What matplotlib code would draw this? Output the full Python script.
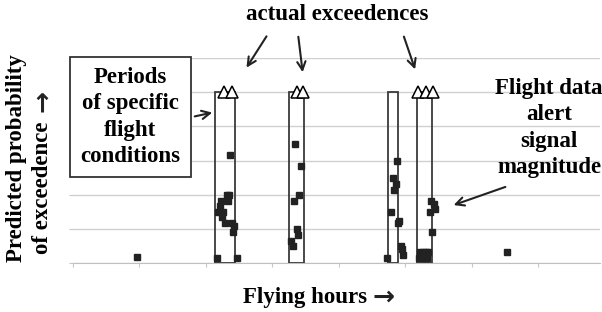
import matplotlib
matplotlib.use("Agg")
import matplotlib.pyplot as plt
from matplotlib.patches import Rectangle

# ---- data (in "flying hours" x units, probability y units) ----
period_start = [2.135, 3.248, 4.737, 5.173]
period_end = [2.436, 3.474, 4.887, 5.398]
period_top = 5.0

exceed_x = [2.271, 2.391, 3.364, 3.463, 5.193, 5.308, 5.418]
exceed_y = [5.0, 5.0, 5.0, 5.0, 5.0, 5.0, 5.0]

signal_x = [0.958,
            2.361, 2.311, 2.346, 2.226, 2.326, 2.211, 2.176, 2.260, 2.245, 2.286, 2.386, 2.421, 2.402, 2.161, 2.462,
            3.338, 3.429, 3.398, 3.323, 3.364, 3.383, 3.278, 3.304,
            4.868, 4.808, 4.857, 4.827, 4.782, 4.898, 4.883, 4.928, 4.947, 4.967, 4.717,
            5.383, 5.424, 5.439, 5.368, 5.398, 5.218, 5.263, 5.308, 5.338, 5.203, 5.248, 5.293, 5.323,
            6.522]
signal_y = [0.166,
            3.149, 1.983, 1.983, 1.816, 1.816, 1.662, 1.496, 1.496, 1.332, 1.157, 1.157, 1.079, 0.913, 0.155, 0.155,
            3.490, 2.828, 1.983, 1.816, 0.991, 0.816, 0.650, 0.496,
            2.983, 2.487, 2.312, 2.149, 1.487, 1.224, 1.157, 0.496, 0.399, 0.242, 0.155,
            1.816, 1.729, 1.566, 1.487, 0.904, 0.321, 0.321, 0.321, 0.321, 0.155, 0.155, 0.155, 0.155,
            0.329]

x_ticks = [0, 1, 2, 3, 4, 5, 6, 7]
y_ticks = [0, 1, 2, 3, 4, 5, 6]

serif = ['Liberation Serif', 'DejaVu Serif']
arrowfont = ['DejaVu Sans']
plt.rcParams['font.family'] = serif

W, H = 602, 312
fig = plt.figure(figsize=(W/100, H/100), dpi=100)
ax = fig.add_axes([73/W, 1-263/H, (600-73)/W, (263-58)/H])
ax.set_xlim(0, 7.925)
ax.set_ylim(0, 6)

ax.set_yticks(y_ticks)
ax.set_xticks(x_ticks)
ax.yaxis.grid(True, color='#d0d0d0', lw=1.0)
ax.set_axisbelow(True)
ax.tick_params(axis='both', length=3, color='#c8c8c8', labelleft=False, labelbottom=False)
for s in ['top', 'right', 'left']:
    ax.spines[s].set_visible(False)
ax.spines['bottom'].set_color('#c0c0c0')

for x0, x1 in zip(period_start, period_end):
    ax.add_patch(Rectangle((x0, 0), x1 - x0, period_top, fill=False,
                           edgecolor='#3a3a3a', lw=1.3, zorder=3))

ax.plot(signal_x, signal_y, 's', color='#222222', ms=3.8, zorder=4, clip_on=False)
ax.plot(exceed_x, exceed_y, '^', mfc='white', mec='black', mew=1.1, ms=9, zorder=5, clip_on=False)

fs = 16.5
arrowprops = dict(arrowstyle='->', color='#222222', lw=1.5, mutation_scale=15)


def fp(x, y):
    return (x / W, 1 - y / H)


# Box annotation
fig.patches.append(Rectangle(fp(70, 177), 121 / W, 120 / H, transform=fig.transFigure,
                             fc='white', ec='#333333', lw=1.3, zorder=6))
fig.text(*fp(130.5, 117), "Periods\nof specific\nflight\nconditions", ha='center', va='center',
         fontsize=fs, fontweight='bold', linespacing=1.34, zorder=7)

ax.annotate("", xy=(215, H-112), xycoords='figure pixels', xytext=(192, H-117), textcoords='figure pixels',
            arrowprops=arrowprops)

fig.text(*fp(337, 15), "actual exceedences", ha='center', va='center', fontsize=fs, fontweight='bold')
for (x0, y0, x1, y1) in [(268, 34, 245, 70), (298, 34, 303, 75), (403, 34, 416, 72)]:
    ax.annotate("", xy=(x1, H-y1), xycoords='figure pixels', xytext=(x0, H-y0), textcoords='figure pixels',
                arrowprops=arrowprops)

fig.text(*fp(549, 128), "Flight data\nalert\nsignal\nmagnitude", ha='center', va='center',
         fontsize=fs, fontweight='bold', linespacing=1.34)
ax.annotate("", xy=(451, H-206), xycoords='figure pixels', xytext=(508, H-186), textcoords='figure pixels',
            arrowprops=arrowprops)

# y label (two lines, rotated) with separate arrow glyph
fig.text(*fp(17, 158), "Predicted probability", ha='center', va='center',
         rotation=90, fontsize=fs, fontweight='bold')
fig.text(*fp(42, 188), "of exceedence", ha='center', va='center',
         rotation=90, fontsize=fs, fontweight='bold')
fig.text(*fp(43, 101), "\u2192", ha='center', va='center', rotation=90,
         fontsize=19, fontweight='bold', family=arrowfont, color='#222222')

# x label with separate arrow glyph
fig.text(*fp(305, 297), "Flying hours", ha='center', va='center', fontsize=fs, fontweight='bold')
fig.text(*fp(384, 298), "\u2192", ha='center', va='center', fontsize=19, fontweight='bold',
         family=arrowfont, color='#222222')

fig.savefig("out.png", dpi=100)
